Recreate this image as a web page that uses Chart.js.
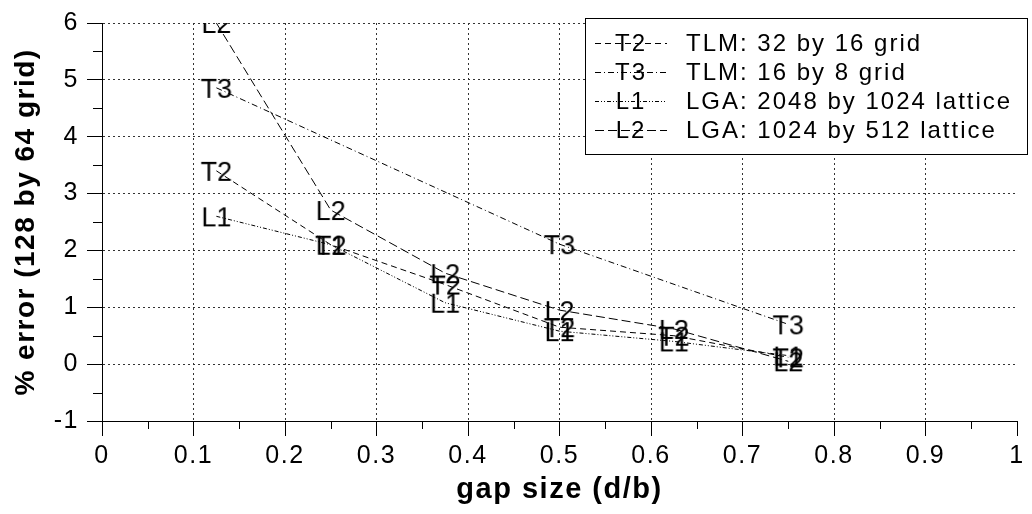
<!DOCTYPE html>
<html lang="en">
<head>
    <meta charset="UTF-8">
    <title>% error vs gap size</title>
    <script src="https://cdn.jsdelivr.net/npm/chart.js"></script>
    <style>
        body { margin: 0; background: #fff; }
        canvas { display: block; }
    </style>
</head>
<body>
    <canvas id="errChart" width="1032" height="514"></canvas>
    <script>
        // data
        const gap = [0.125, 0.25, 0.375, 0.5, 0.625, 0.75];
        const gapT3 = [0.125, 0.5, 0.75];
        const errT2 = [3.4, 2.1, 1.4, 0.65, 0.5, 0.12];
        const errT3 = [4.86, 2.11, 0.7];
        const errL1 = [2.6, 2.1, 1.08, 0.58, 0.4, 0.15];
        const errL2 = [6.0, 2.71, 1.6, 0.95, 0.62, 0.05];

        const markers = ['T2', 'T3', 'L1', 'L2'];
        const labels = ['TLM: 32 by 16 grid', 'TLM: 16 by 8 grid', 'LGA: 2048 by 1024 lattice', 'LGA: 1024 by 512 lattice'];

        const xTicks = [0, 0.1, 0.2, 0.3, 0.4, 0.5, 0.6, 0.7, 0.8, 0.9, 1];
        const xTickLabels = ['0', '0.1', '0.2', '0.3', '0.4', '0.5', '0.6', '0.7', '0.8', '0.9', '1'];
        const yTicks = [-1, 0, 1, 2, 3, 4, 5, 6];
        const yTickLabels = ['-1', '0', '1', '2', '3', '4', '5', '6'];

        const FONT = '"Liberation Sans", Arial, Helvetica, sans-serif';

        // text markers ("T2", "L1" ...) as point images
        function makeMarker(txt, size) {
            const c = document.createElement('canvas');
            let g = c.getContext('2d');
            g.font = size + 'px ' + FONT;
            const w = Math.ceil(g.measureText(txt).width) + 2;
            const h = Math.ceil(size * 1.1);
            c.width = w;
            c.height = h;
            g = c.getContext('2d');
            g.font = size + 'px ' + FONT;
            g.fillStyle = '#000';
            g.textAlign = 'center';
            g.textBaseline = 'alphabetic';
            g.fillText(txt, w / 2, h / 2 + size * 0.716 / 2);
            return c;
        }

        const dashes = [[6, 4], [6, 3, 1, 3], [4, 2, 1, 2, 1, 2], [9, 4]];

        function series(xs, ys, i) {
            return {
                label: labels[i],
                data: xs.map((x, k) => ({ x: x, y: ys[k] })),
                borderColor: '#000',
                borderWidth: 1,
                borderDash: dashes[i],
                tension: 0,
                fill: false,
                pointStyle: makeMarker(markers[i], 27),
                pointRadius: 10,
                pointBorderWidth: 0,
                clip: { left: 30, top: 0, right: 30, bottom: 30 }
            };
        }

        // wide-ish spacing like the original bitmap fonts
        const spacingPlugin = {
            id: 'spacing',
            beforeDraw(chart) {
                chart.ctx.letterSpacing = '1.5px';
            }
        };

        // half-step minor ticks on both axes
        const minorTicks = {
            id: 'minorTicks',
            afterDraw(chart) {
                const { ctx, scales: { x, y } } = chart;
                ctx.save();
                ctx.strokeStyle = '#000';
                ctx.lineWidth = 1;
                ctx.setLineDash([]);
                ctx.beginPath();
                for (let i = 0; i < xTicks.length - 1; i++) {
                    const px = Math.round(x.getPixelForValue((xTicks[i] + xTicks[i + 1]) / 2)) + 0.5;
                    ctx.moveTo(px, y.bottom);
                    ctx.lineTo(px, y.bottom + 8);
                }
                for (let i = 0; i < yTicks.length - 1; i++) {
                    const py = Math.round(y.getPixelForValue((yTicks[i] + yTicks[i + 1]) / 2)) + 0.5;
                    ctx.moveTo(x.left, py);
                    ctx.lineTo(x.left - 9, py);
                }
                ctx.stroke();
                ctx.restore();
            }
        };

        // boxed legend with the marker text struck through by the line sample
        const boxLegend = {
            id: 'boxLegend',
            afterDraw(chart, args, opts) {
                const ctx = chart.ctx;
                ctx.save();
                ctx.fillStyle = '#fff';
                ctx.fillRect(opts.left, opts.top, opts.right - opts.left, opts.bottom - opts.top);
                ctx.strokeStyle = '#000';
                ctx.lineWidth = 1;
                ctx.setLineDash([]);
                ctx.strokeRect(opts.left + 0.5, opts.top + 0.5, opts.right - opts.left, opts.bottom - opts.top);
                ctx.font = '24px ' + FONT;
                ctx.letterSpacing = '2px';
                ctx.fillStyle = '#000';
                ctx.textBaseline = 'middle';
                chart.data.datasets.forEach((ds, i) => {
                    const cy = opts.top + opts.firstRow + i * opts.rowStep;
                    ctx.beginPath();
                    ctx.setLineDash(ds.borderDash);
                    ctx.moveTo(opts.lineFrom, Math.round(cy) + 0.5);
                    ctx.lineTo(opts.lineTo, Math.round(cy) + 0.5);
                    ctx.stroke();
                    ctx.setLineDash([]);
                    ctx.textAlign = 'center';
                    ctx.fillText(markers[i], (opts.lineFrom + opts.lineTo) / 2, cy + 1);
                    ctx.textAlign = 'left';
                    ctx.fillText(ds.label, opts.textX, cy + 1);
                });
                ctx.restore();
            }
        };

        const gridColor = last => c => (c.tick && c.tick.value === last) ? 'rgba(0,0,0,0)' : '#333';

        const ctx = document.getElementById('errChart').getContext('2d');
        new Chart(ctx, {
            type: 'line',
            data: {
                datasets: [
                    series(gap, errT2, 0),
                    series(gapT3, errT3, 1),
                    series(gap, errL1, 2),
                    series(gap, errL2, 3)
                ]
            },
            options: {
                responsive: false,
                animation: false,
                events: [],
                layout: { padding: { top: 18, right: 15, left: 0, bottom: 0 } },
                scales: {
                    x: {
                        type: 'linear',
                        position: 'bottom',
                        min: 0,
                        max: 1,
                        afterBuildTicks: s => { s.ticks = xTicks.map(v => ({ value: v })); },
                        afterFit: s => { s.height = 93; },
                        ticks: {
                            autoSkip: false,
                            maxRotation: 0,
                            padding: 5,
                            color: '#000',
                            font: { family: FONT, size: 25 },
                            callback: (v, i) => xTickLabels[i]
                        },
                        grid: {
                            color: gridColor(1),
                            lineWidth: 1,
                            tickLength: 15,
                            tickColor: '#000',
                            tickBorderDash: []
                        },
                        border: { display: true, color: '#000', width: 1, dash: [2, 3] },
                        title: {
                            display: true,
                            text: 'gap size (d/b)',
                            color: '#000',
                            font: { family: FONT, size: 29, weight: 'bold' },
                            padding: { top: 0, bottom: 7 }
                        }
                    },
                    y: {
                        min: -1,
                        max: 6,
                        afterBuildTicks: s => { s.ticks = yTicks.map(v => ({ value: v })); },
                        afterFit: s => { s.width = 102; },
                        ticks: {
                            padding: 8,
                            color: '#000',
                            font: { family: FONT, size: 25 },
                            callback: (v, i) => yTickLabels[i]
                        },
                        grid: {
                            color: gridColor(-1),
                            lineWidth: 1,
                            tickLength: 15,
                            tickColor: '#000',
                            tickBorderDash: []
                        },
                        border: { display: true, color: '#000', width: 1, dash: [2, 3] },
                        title: {
                            display: true,
                            text: '% error (128 by 64 grid)',
                            color: '#000',
                            font: { family: FONT, size: 28, weight: 'bold' },
                            padding: { top: 9, bottom: 0 }
                        }
                    }
                },
                plugins: {
                    legend: { display: false },
                    tooltip: { enabled: false },
                    boxLegend: {
                        left: 585, top: 18, right: 1027, bottom: 154,
                        firstRow: 25, rowStep: 29,
                        lineFrom: 595, lineTo: 667, textX: 686
                    }
                }
            },
            plugins: [spacingPlugin, minorTicks, boxLegend]
        });
    </script>
</body>
</html>
